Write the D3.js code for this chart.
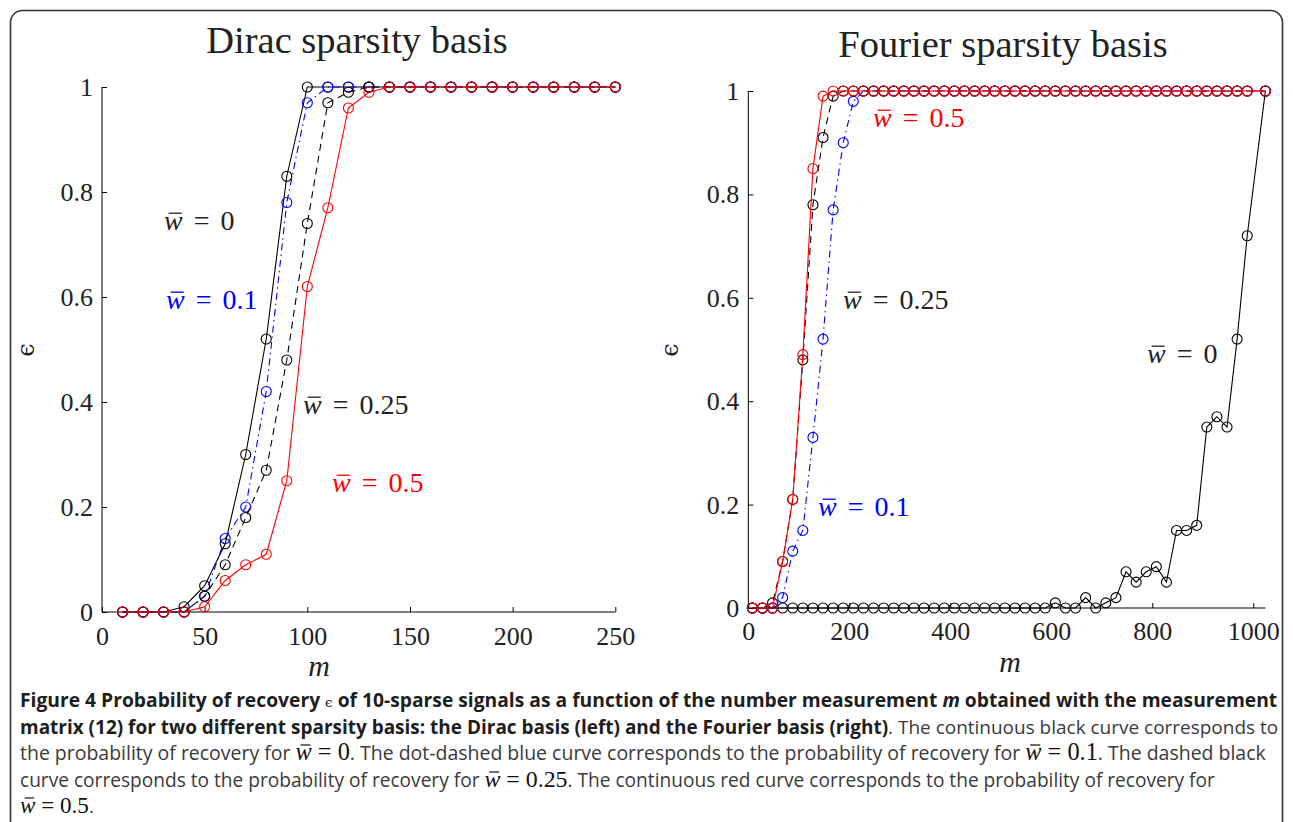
<!DOCTYPE html>
<html><head><meta charset="utf-8">
<script src="https://cdn.jsdelivr.net/npm/d3@7"></script>
<style>
html,body{margin:0;padding:0;background:#fff;}
svg{display:block;}
</style></head>
<body>
<svg id="chart" width="1293" height="822"></svg>
<script>
// ---------------- DATA ----------------
const leftM = [10,20,30,40,50,60,70,80,90,100,110,120,130,140,150,160,170,180,190,200,210,220,230,240,250];
const leftW0   = [0,0,0,0.01,0.05,0.13,0.30,0.52,0.83,1,1,1,1,1,1,1,1,1,1,1,1,1,1,1,1];
const leftW01  = [0,0,0,0,0.03,0.14,0.20,0.42,0.78,0.97,1,1,1,1,1,1,1,1,1,1,1,1,1,1,1];
const leftW025 = [0,0,0,0,0.03,0.09,0.18,0.27,0.48,0.74,0.97,0.99,1,1,1,1,1,1,1,1,1,1,1,1,1];
const leftW05  = [0,0,0,0,0.01,0.06,0.09,0.11,0.25,0.62,0.77,0.96,0.99,1,1,1,1,1,1,1,1,1,1,1,1];

const rightM = [8,28,48,68,88,108,128,148,168,188,208,228,248,268,288,308,328,348,368,388,408,428,448,468,488,
                508,528,548,568,588,608,628,648,668,688,708,728,748,768,788,808,828,848,868,888,908,928,948,968,988,1024];
const rightW0   = [0,0,0,0,0,0,0,0,0,0,0,0,0,0,0,0,0,0,0,0,0,0,0,0,0,0,0,0,0,0,
                   0.01,0,0,0.02,0,0.01,0.02,0.07,0.05,0.07,0.08,0.05,0.15,0.15,0.16,0.35,0.37,0.35,0.52,0.72,1];
const rightW01  = [0,0,0,0.02,0.11,0.15,0.33,0.52,0.77,0.90,0.98,1,1,1,1,1,1,1,1,1,1,1,1,1,1,1,
                   1,1,1,1,1,1,1,1,1,1,1,1,1,1,1,1,1,1,1,1,1,1,1,1,1];
const rightW025 = [0,0,0.01,0.09,0.21,0.48,0.78,0.91,0.99,1,1,1,1,1,1,1,1,1,1,1,1,1,1,1,1,1,
                   1,1,1,1,1,1,1,1,1,1,1,1,1,1,1,1,1,1,1,1,1,1,1,1,1];
const rightW05  = [0,0,0,0.09,0.21,0.49,0.85,0.99,1,1,1,1,1,1,1,1,1,1,1,1,1,1,1,1,1,1,
                   1,1,1,1,1,1,1,1,1,1,1,1,1,1,1,1,1,1,1,1,1,1,1,1,1];

const leftXTicks = [0,50,100,150,200,250];
const rightXTicks = [0,200,400,600,800,1000];
const yTicks = [0,0.2,0.4,0.6,0.8,1];
const titles = ["Dirac sparsity basis","Fourier sparsity basis"];
const seriesNames = ["0","0.1","0.25","0.5"];

// ---------------- STYLE ----------------
const SERIF = "'Liberation Serif','DejaVu Serif',serif";
const SANS = "'Open Sans','Noto Sans',sans-serif";
const styles = [
  {color:"#000000", dash:null},
  {color:"#0000ff", dash:"7,4,1.5,4"},
  {color:"#000000", dash:"7,5"},
  {color:"#ff0000", dash:null}
];

const svg = d3.select("#chart");

// frame
svg.append("rect").attr("x",10.5).attr("y",10.5).attr("width",1272).attr("height",840)
  .attr("rx",12).attr("fill","none").attr("stroke","#333").attr("stroke-width",1.6);

function wbarText(g, x, y, value, color, size){
  const t = g.append("text").attr("x",x).attr("y",y).attr("fill",color)
    .attr("font-family",SERIF).attr("font-size",size).attr("word-spacing",4);
  t.append("tspan").attr("font-style","italic").text("w");
  t.append("tspan").text(" = " + value);
  const ext = t.node().getExtentOfChar(0);
  g.append("line")
    .attr("x1", ext.x + ext.width*0.25).attr("x2", ext.x + ext.width*0.95)
    .attr("y1", y - size*0.6).attr("y2", y - size*0.6)
    .attr("stroke", color).attr("stroke-width", 1.3);
  return t;
}

function panel(cfg){
  const g = svg.append("g");
  const x = d3.scaleLinear().domain(cfg.xDomain).range(cfg.xRange);
  const y = d3.scaleLinear().domain([0,1]).range(cfg.yRange);

  // axes
  const xa = g.append("g").attr("transform",`translate(0,${cfg.yRange[0]})`)
    .call(d3.axisBottom(x).tickValues(cfg.xTicks).tickSizeInner(-5).tickSizeOuter(0).tickFormat(d3.format("d")));
  xa.select(".domain").attr("stroke","#000").attr("d",`M${cfg.xRange[0]},0H${cfg.xRange[1]}`);
  xa.selectAll(".tick line").attr("stroke","#000");
  xa.selectAll(".tick text").attr("font-family",SERIF).attr("font-size",26).attr("fill","#222")
    .attr("dy",null).attr("y",cfg.xLabelDy);

  const ya = g.append("g").attr("transform",`translate(${cfg.xRange[0]},0)`)
    .call(d3.axisLeft(y).tickValues(yTicks).tickSizeInner(-5).tickSizeOuter(0).tickFormat(d => d===0||d===1? d3.format("d")(d) : d3.format(".1f")(d)));
  ya.select(".domain").attr("stroke","#000").attr("d",`M0,${cfg.yRange[0]}V${cfg.yRange[1]}`);
  ya.selectAll(".tick line").attr("stroke","#000");
  ya.selectAll(".tick text").attr("font-family",SERIF).attr("font-size",26).attr("fill","#222")
    .attr("x",-9).attr("dy","0.33em");

  // series
  const line = d3.line().x(d => x(d.m)).y(d => y(d.v));
  cfg.series.forEach((vals, i) => {
    const data = cfg.m.map((m, k) => ({m, v: vals[k]}));
    const st = styles[i];
    g.append("path").datum(data).attr("d", line).attr("fill","none")
      .attr("stroke", st.color).attr("stroke-width",1.1)
      .attr("stroke-dasharray", st.dash);
    g.selectAll(null).data(data).enter().append("circle")
      .attr("cx", d => x(d.m)).attr("cy", d => y(d.v)).attr("r",5)
      .attr("fill","none").attr("stroke", st.color).attr("stroke-width",1.1);
  });

  // title
  g.append("text").attr("x",cfg.titleX).attr("y",cfg.titleY)
    .attr("text-anchor","middle").attr("font-family",SERIF).attr("font-size",38.5).attr("fill","#222")
    .text(cfg.title);
  // x label
  g.append("text").attr("x",cfg.mPos[0]).attr("y",cfg.mPos[1]).attr("text-anchor","middle")
    .attr("font-family",SERIF).attr("font-style","italic").attr("font-size",30).attr("fill","#222").text("m");
  // y label
  g.append("text").attr("transform",`translate(${cfg.ePos[0]},${cfg.ePos[1]}) rotate(-90)`)
    .attr("text-anchor","middle").attr("font-family","'DejaVu Serif',serif").attr("font-size",24).attr("fill","#222").text("ϵ");

  // annotations
  cfg.annots.forEach(a => {
    wbarText(g, a.x, a.y, seriesNames[a.s], a.s===1?"#0000ff":(a.s===3?"#ff0000":"#222"), 28);
  });
}

panel({
  xDomain:[0,250], xRange:[102,615.3], yRange:[612,87], xTicks:leftXTicks, xLabelDy:33,
  m:leftM, series:[leftW0,leftW01,leftW025,leftW05], title:titles[0], titleX:357, titleY:53,
  mPos:[319,676], ePos:[34,350],
  annots:[{s:0,x:164,y:230},{s:1,x:166,y:309},{s:2,x:303,y:414},{s:3,x:332,y:492}]
});
panel({
  xDomain:[0,1024], xRange:[748.3,1265.4], yRange:[608,91], xTicks:rightXTicks, xLabelDy:32,
  m:rightM, series:[rightW0,rightW01,rightW025,rightW05], title:titles[1], titleX:1003, titleY:57,
  mPos:[1010,672], ePos:[678,350],
  annots:[{s:3,x:873,y:127},{s:2,x:843,y:309},{s:0,x:1147,y:363},{s:1,x:818,y:516}]
});

// ---------------- CAPTION ----------------
const captionLines = [
  {y:707, w:1258, segs:[["b","Figure 4 Probability of recovery "],["eps","ϵ"],["b"," of 10-sparse signals as a function of the number measurement "],["bi","m"],["b"," obtained with the measurement"]]},
  {y:734, w:1257, segs:[["b","matrix (12) for two different sparsity basis: the Dirac basis (left) and the Fourier basis (right)"],["n",". The continuous black curve corresponds to"]]},
  {y:760, w:1246, segs:[["n","the probability of recovery for "],["mw","w"],["mv"," = 0"],["n",". The dot-dashed blue curve corresponds to the probability of recovery for "],["mw","w"],["mv"," = 0.1"],["n",". The dashed black"]]},
  {y:787, w:1195, segs:[["n","curve corresponds to the probability of recovery for "],["mw","w"],["mv"," = 0.25"],["n",". The continuous red curve corresponds to the probability of recovery for"]]},
  {y:813, w:null, segs:[["mw","w"],["mv"," = 0.5"],["n","."]]}
];
const cap = svg.append("g");
const baseFs = 18.5;
const relSize = {eps:0.7, mw:1.25, mv:1.25};
captionLines.forEach(L => {
  const t = cap.append("text").attr("x",20).attr("y",L.y).attr("font-family",SANS).attr("fill","#3a3a3a");
  let idx = 0; const wIdx = []; const spans = [];
  L.segs.forEach(([k,s]) => {
    const ts = t.append("tspan").text(s);
    spans.push([k, ts]);
    if (k==="b") ts.attr("font-weight","bold").attr("fill","#1e1e1e");
    if (k==="bi") ts.attr("font-weight","bold").attr("font-style","italic").attr("fill","#1e1e1e");
    if (k==="eps") ts.attr("font-family","'DejaVu Serif',serif").attr("fill","#1e1e1e");
    if (k==="mw") { ts.attr("font-family",SERIF).attr("font-style","italic").attr("fill","#111"); wIdx.push(idx); }
    if (k==="mv") ts.attr("font-family",SERIF).attr("fill","#111");
    idx += s.length;
  });
  const setSize = fs => {
    t.attr("font-size", fs);
    spans.forEach(([k, ts]) => { if (relSize[k]) ts.attr("font-size", fs*relSize[k]); });
  };
  let fs = baseFs;
  setSize(fs);
  if (L.w) {
    for (let it = 0; it < 3; it++) {
      const nat = t.node().getComputedTextLength();
      fs = fs * L.w / nat;
      setSize(fs);
    }
  }
  wIdx.forEach(i => {
    const e = t.node().getExtentOfChar(i);
    cap.append("line").attr("x1",e.x+e.width*0.3).attr("x2",e.x+e.width*0.92)
      .attr("y1",L.y-15).attr("y2",L.y-15).attr("stroke","#111").attr("stroke-width",1.2);
  });
});
</script>
</body></html>
